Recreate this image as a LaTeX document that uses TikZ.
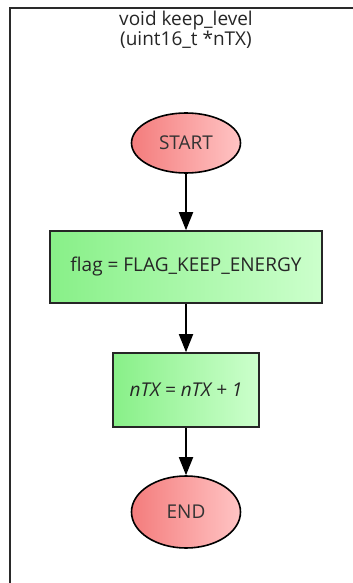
\documentclass[tikz,border=0pt]{standalone}
\usepackage{fontspec}
\setmainfont{Open Sans}
\usetikzlibrary{shapes.geometric,arrows.meta}
\definecolor{redL}{HTML}{F47C7C}
\definecolor{redR}{HTML}{FFC4C4}
\definecolor{grnL}{HTML}{88F088}
\definecolor{grnR}{HTML}{CCFFCC}
\definecolor{frame}{HTML}{2A2A2A}
\tikzset{
  term/.style={ellipse, draw=black, line width=1.6pt, left color=redL, right color=redR,
    minimum width=109pt, minimum height=60pt, inner sep=0pt, font=\fontsize{19}{22}\selectfont, text=black!80},
  proc/.style={rectangle, draw=black!85, line width=1.6pt, left color=grnL, right color=grnR,
    inner sep=0pt, font=\fontsize{19}{22}\selectfont, text=black!85},
  flow/.style={-{Triangle[length=18pt,width=14pt]}, line width=1.8pt, black}
}
\begin{document}
\begin{tikzpicture}[x=1pt,y=-1pt]
\useasboundingbox (0,0) rectangle (353,583);
\draw[frame, line width=2.2pt] (10,600) -- (10,8) -- (370,8);
\node[font=\fontsize{19}{20.5}\selectfont, align=center, text=black!85] (title) at (186,30) {void keep\_level\\(uint16\_t *nTX)};
\node[term] (start) at (186,143) {START};
\node[proc, minimum width=272pt, minimum height=72pt] (p1) at (186,267) {flag = FLAG\_KEEP\_ENERGY};
\node[proc, minimum width=146pt, minimum height=74pt] (p2) at (186,390) {\itshape nTX = nTX + 1};
\node[term, minimum height=72pt] (end) at (186,512) {END};
\draw[flow] (start) -- (p1);
\draw[flow] (p1) -- (p2);
\draw[flow] (p2) -- (end);
\end{tikzpicture}
\end{document}
